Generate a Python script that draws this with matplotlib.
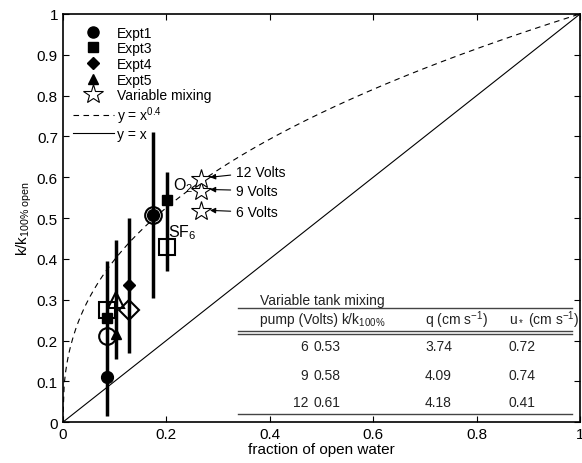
import numpy as np
import matplotlib
matplotlib.use("Agg")
import matplotlib.pyplot as plt
from matplotlib.lines import Line2D

plt.rcParams['font.family'] = ['Liberation Sans', 'DejaVu Sans']
plt.rcParams['mathtext.fontset'] = 'custom'
plt.rcParams['mathtext.rm'] = 'Liberation Sans'
plt.rcParams['mathtext.it'] = 'Liberation Sans'
plt.rcParams['mathtext.default'] = 'regular'

# error bars: x, low, high
bar_x = [0.085, 0.103, 0.128, 0.174, 0.201]
bar_lo = [0.015, 0.155, 0.17, 0.305, 0.37]
bar_hi = [0.395, 0.445, 0.50, 0.71, 0.612]

# filled markers (O2) and open markers (SF6)
expt1_x, expt1_o2, expt1_sf6 = [0.085, 0.174], [0.11, 0.507], [0.21, 0.507]
expt3_x, expt3_o2, expt3_sf6 = [0.085, 0.201], [0.255, 0.544], [0.275, 0.43]
expt4_x, expt4_o2, expt4_sf6 = [0.128], [0.335], [0.275]
expt5_x, expt5_o2, expt5_sf6 = [0.103], [0.215], [0.30]

# variable mixing stars
volts = [6, 9, 12]
star_x = [0.267, 0.267, 0.267]
star_y = [0.516, 0.567, 0.596]

# table
tab_volts = ['6', '9', '12']
tab_k = ['0.53', '0.58', '0.61']
tab_q = ['3.74', '4.09', '4.18']
tab_u = ['0.72', '0.74', '0.41']

fig = plt.figure(figsize=(5.82, 4.64), dpi=100)
ax = fig.add_axes([0.108, 0.088, 0.889, 0.880])

xx = np.linspace(0, 1, 400)
ax.plot(xx, xx ** 0.4, 'k--', lw=0.8, dashes=(5, 4))
ax.plot([0, 1], [0, 1], 'k-', lw=0.8)

for x, lo, hi in zip(bar_x, bar_lo, bar_hi):
    ax.plot([x, x], [lo, hi], 'k-', lw=2.5, solid_capstyle='butt')

ax.plot(expt1_x, expt1_o2, 'ko', ms=8.5, ls='none')
ax.plot(expt3_x, expt3_o2, 'ks', ms=7, ls='none')
ax.plot(expt4_x, expt4_o2, 'kD', ms=6.5, ls='none')
ax.plot(expt5_x, expt5_o2, 'k^', ms=7.5, ls='none')

ax.plot(expt1_x, expt1_sf6, 'o', mfc='none', mec='k', mew=1.5, ms=12, ls='none')
ax.plot(expt3_x, expt3_sf6, 's', mfc='none', mec='k', mew=1.5, ms=11, ls='none')
ax.plot(expt4_x, expt4_sf6, 'D', mfc='none', mec='k', mew=1.5, ms=10, ls='none')
ax.plot(expt5_x, expt5_sf6, '^', mfc='none', mec='k', mew=1.5, ms=12, ls='none')

ax.plot(star_x, star_y, '*', mfc='white', mec='k', mew=0.8, ms=15, ls='none')

ax.text(0.212, 0.57, 'O$_2$', fontsize=11.5)
ax.text(0.203, 0.455, 'SF$_6$', fontsize=11.5)

txt_y = {6: 0.514, 9: 0.567, 12: 0.613}
for v, sx, sy in zip(volts, star_x, star_y):
    ax.annotate('%d Volts' % v, xy=(sx + 0.012, sy + 0.003), xytext=(0.335, txt_y[v]),
                fontsize=10, va='center',
                arrowprops=dict(arrowstyle='-|>', color='k', lw=0.8, mutation_scale=8))

# legend
handles = [
    Line2D([], [], marker='o', color='k', ls='none', ms=8),
    Line2D([], [], marker='s', color='k', ls='none', ms=6.5),
    Line2D([], [], marker='D', color='k', ls='none', ms=6),
    Line2D([], [], marker='^', color='k', ls='none', ms=7.5),
    Line2D([], [], marker='*', mfc='white', mec='k', mew=0.8, ls='none', ms=15),
    Line2D([], [], color='k', ls='--', lw=0.8, dashes=(5, 4)),
    Line2D([], [], color='k', ls='-', lw=0.8),
]
labels = ['Expt1', 'Expt3', 'Expt4', 'Expt5', 'Variable mixing',
          'y = x$^{0.4}$', 'y = x']
ax.legend(handles, labels, loc='upper left', frameon=False, fontsize=10,
          handlelength=3.0, handletextpad=0.2, labelspacing=0.12,
          borderaxespad=0.3, bbox_to_anchor=(0.0, 0.995))

# table
tc = dict(fontsize=10, color='#222222')
ax.text(0.381, 0.30, 'Variable tank mixing', va='center', **tc)
ax.plot([0.338, 0.985], [0.279, 0.279], color='#444444', lw=1)
ax.text(0.381, 0.252, 'pump (Volts)', va='center', **tc)
ax.text(0.538, 0.252, 'k/k$_{100\\%}$', va='center', **tc)
ax.text(0.70, 0.252, 'q (cm s$^{-1}$)', va='center', **tc)
ax.text(0.863, 0.252, 'u$_*$ (cm s$^{-1}$)', va='center', **tc)
ax.plot([0.338, 0.985], [0.224, 0.224], color='#444444', lw=1)
ax.plot([0.338, 0.985], [0.216, 0.216], color='#444444', lw=1)
row_y = [0.186, 0.115, 0.049]
for ry, v, k, q, u in zip(row_y, tab_volts, tab_k, tab_q, tab_u):
    ax.text(0.474, ry, v, va='center', ha='right', **tc)
    ax.text(0.484, ry, k, va='center', **tc)
    ax.text(0.70, ry, q, va='center', **tc)
    ax.text(0.861, ry, u, va='center', **tc)
ax.plot([0.338, 0.985], [0.02, 0.02], color='#444444', lw=1)

ax.set_xlim(0, 1)
ax.set_ylim(0, 1)
ax.set_xticks([0, 0.2, 0.4, 0.6, 0.8, 1])
ax.set_xticklabels(['0', '0.2', '0.4', '0.6', '0.8', '1'])
ax.set_yticks(np.round(np.arange(0, 1.01, 0.1), 1))
ax.set_yticklabels(['0', '0.1', '0.2', '0.3', '0.4', '0.5', '0.6', '0.7', '0.8', '0.9', '1'])
ax.tick_params(direction='in', top=True, right=True, labelsize=11, length=4, width=0.8)
for s in ax.spines.values():
    s.set_linewidth(1.2)
ax.set_xlabel('fraction of open water', fontsize=11, labelpad=1)
ax.set_ylabel('k/k$_{100\\%\\ open}$', fontsize=11, labelpad=2)

fig.savefig('out.png', dpi=100)
